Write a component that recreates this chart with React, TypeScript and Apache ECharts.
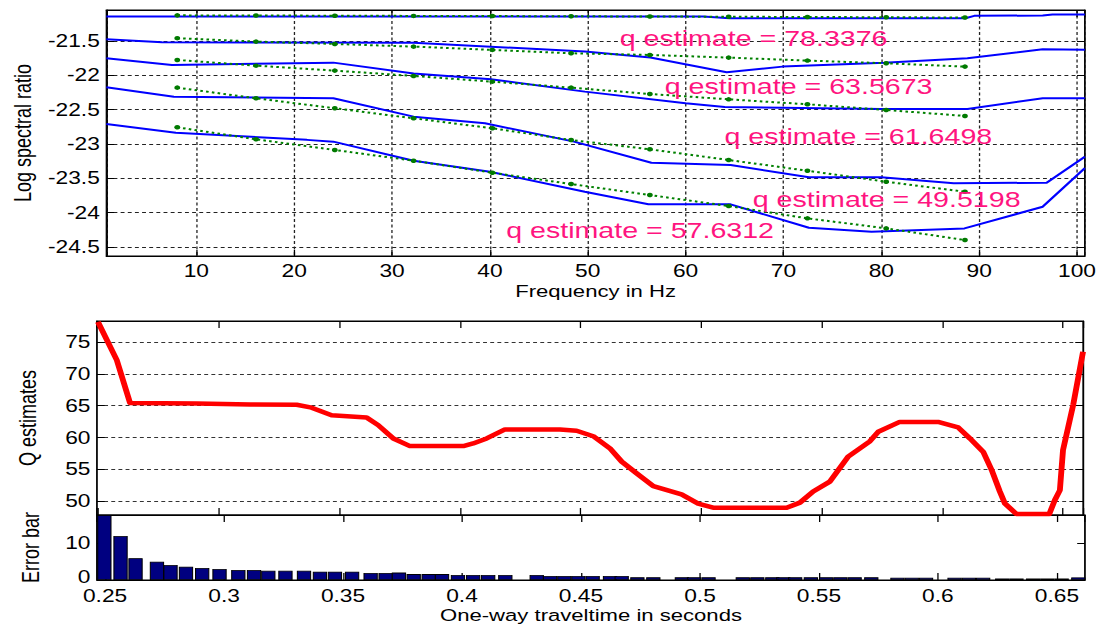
import React, { useEffect, useRef } from "react";
import * as echarts from "echarts";

// ---------------- data ----------------
// Top panel: log spectral ratio curves (frequency in Hz, value)
const blueLine1 = [[0.8, -21.146], [61.8, -21.146], [64.5, -21.17], [88.6, -21.17], [89.5, -21.135], [96.5, -21.13], [97.5, -21.115], [100.8, -21.115]];
const blueLine2 = [[0.8, -21.475], [6.5, -21.52], [32.2, -21.525], [49.7, -21.655], [56.4, -21.74], [64.2, -21.956], [69.9, -21.874], [80.3, -21.816], [88.8, -21.752], [96.5, -21.62], [100.8, -21.63]];
const blueLine3 = [[0.8, -21.752], [7.5, -21.85], [24, -21.816], [32.2, -21.975], [40.1, -22.058], [49.7, -22.238], [60, -22.407], [64, -22.462], [80, -22.49], [88.8, -22.49], [96.5, -22.335], [100.8, -22.335]];
const blueLine4 = [[0.8, -22.174], [7.7, -22.311], [24, -22.335], [32.2, -22.602], [39.5, -22.699], [48.6, -22.966], [56.5, -23.272], [64.6, -23.306], [72.6, -23.485], [80, -23.485], [87.4, -23.572], [96.9, -23.563], [100.8, -23.185]];
const blueLine5 = [[0.8, -22.709], [7.9, -22.835], [21.3, -22.94], [24, -22.966], [32.2, -23.243], [40, -23.403], [49.7, -23.695], [56.2, -23.878], [64.6, -23.878], [72.6, -24.219], [79, -24.277], [88.5, -24.228], [96.5, -23.913], [100.8, -23.35]];

const greenFreqs = [8.05, 16.1, 24.15, 32.2, 40.25, 48.3, 56.35, 64.4, 72.45, 80.5, 88.55];
const greenLine1 = [-21.128, -21.13, -21.133, -21.136, -21.138, -21.141, -21.145, -21.148, -21.152, -21.155, -21.16];
const greenLine2 = [-21.46, -21.51, -21.544, -21.583, -21.631, -21.68, -21.704, -21.743, -21.786, -21.825, -21.874];
const greenLine3 = [-21.777, -21.86, -21.932, -22.01, -22.093, -22.18, -22.272, -22.35, -22.422, -22.505, -22.592];
const greenLine4 = [-22.18, -22.335, -22.48, -22.626, -22.771, -22.942, -23.077, -23.233, -23.389, -23.549, -23.695];
const greenLine5 = [-22.757, -22.932, -23.087, -23.243, -23.418, -23.583, -23.743, -23.903, -24.082, -24.228, -24.398];

const qTexts = ["q estimate = 78.3376", "q estimate = 63.5673", "q estimate = 61.6498", "q estimate = 49.5198", "q estimate = 57.6312"];

// Middle panel: Q estimates vs one-way traveltime
const qCurve = [
  [0.2498, 78.2], [0.2576, 72.2], [0.2631, 65.45], [0.2908, 65.35], [0.3129, 65.2], [0.3322, 65.15], [0.3384, 64.7],
  [0.3467, 63.5], [0.3612, 63.15], [0.366, 61.95], [0.3723, 59.85], [0.3792, 58.65], [0.4013, 58.65], [0.4054, 59.07],
  [0.411, 59.85], [0.4186, 61.27], [0.4414, 61.27], [0.4483, 61.06], [0.4552, 60.2], [0.4621, 58.3], [0.467, 56.2],
  [0.4732, 54.35], [0.4801, 52.35], [0.4918, 51.05], [0.4987, 49.6], [0.5049, 48.95], [0.5354, 48.95], [0.5409, 49.75],
  [0.5464, 51.5], [0.5533, 53.05], [0.5609, 57.0], [0.5699, 59.4], [0.5734, 60.9], [0.5823, 62.45], [0.5982, 62.45],
  [0.6065, 61.6], [0.6114, 59.85], [0.6169, 57.75], [0.6204, 54.9], [0.6238, 51.5], [0.6259, 49.6], [0.6307, 47.95],
  [0.6443, 47.95], [0.6466, 50.15], [0.6487, 51.7], [0.65, 58.0], [0.6542, 65.1], [0.6583, 73.5],
];

// Bottom panel: error bars
const errTimes = [
  0.2497, 0.2565, 0.2628, 0.2718, 0.2775, 0.284, 0.2908, 0.2981, 0.306, 0.3126, 0.3186, 0.3258, 0.3336, 0.3403, 0.3466,
  0.3538, 0.3616, 0.3679, 0.3735, 0.3797, 0.386, 0.3916, 0.3983, 0.4047, 0.411, 0.4182, 0.4314, 0.437, 0.443, 0.4489,
  0.4549, 0.4622, 0.4671, 0.4737, 0.4804, 0.4924, 0.4975, 0.5036, 0.518, 0.5241, 0.5304, 0.535, 0.54, 0.5466, 0.553,
  0.559, 0.565, 0.572, 0.583, 0.589, 0.595, 0.607, 0.613, 0.619, 0.627, 0.633, 0.64, 0.646, 0.652, 0.659,
];
const errValues = [
  17.6, 11.9, 5.9, 4.95, 4.05, 3.6, 3.25, 2.97, 2.7, 2.7, 2.5, 2.5, 2.5, 2.25, 2.25,
  2.25, 1.9, 1.9, 2.0, 1.6, 1.6, 1.6, 1.35, 1.35, 1.35, 1.35, 1.35, 1.08, 1.08, 1.08,
  1.08, 1.08, 1.08, 0.72, 0.72, 0.72, 0.72, 0.72, 0.72, 0.72, 0.72, 0.72, 0.72, 0.72, 0.72,
  0.72, 0.72, 0.72, 0.6, 0.6, 0.6, 0.6, 0.6, 0.6, 0.4, 0.4, 0.4, 0.4, 0.4, 0.7,
];

// ---------------- layout ----------------
const STRETCH = 1.3; // the picture is horizontally stretched
const CW = 846;
const CH = 627;
const qTextAnchors = [[53.2, -21.464], [57.8, -22.155], [63.9, -22.883], [66.8, -23.808], [41.6, -24.26]];
const FONT = "'Liberation Sans', Arial, Helvetica, sans-serif";

const tickFont = { fontFamily: FONT, fontSize: 17.5, color: "#000" };
const nameFont = { fontFamily: FONT, fontSize: 17, color: "#000" };
const yNameFont = { fontFamily: FONT, fontSize: 18, color: "#000" };
const gridDash = { color: "#222", width: 1, type: [3, 2.5] as any };

function frameAxis(gridIndex: number, position: string, min: number, max: number, split: number, isX: boolean) {
  return {
    type: "value",
    gridIndex,
    position,
    min,
    max,
    splitNumber: split,
    axisLine: { show: true, onZero: false, lineStyle: { color: "#000", width: 1 } },
    axisTick: { show: true, inside: true, length: isX ? 7 : 6, lineStyle: { color: "#000" } },
    axisLabel: { show: false },
    splitLine: { show: false },
  };
}

function buildOption() {
  const blues = [blueLine1, blueLine2, blueLine3, blueLine4, blueLine5];
  const greens = [greenLine1, greenLine2, greenLine3, greenLine4, greenLine5];
  const series: any[] = [];
  blues.forEach((d) => {
    series.push({
      type: "line", xAxisIndex: 0, yAxisIndex: 0, data: d, symbol: "none",
      lineStyle: { color: "#0000ff", width: 2 }, z: 3,
    });
  });
  greens.forEach((vals) => {
    series.push({
      type: "line", xAxisIndex: 0, yAxisIndex: 0,
      data: greenFreqs.map((f, j) => [f, vals[j]]),
      symbol: "circle", symbolSize: 4.5, itemStyle: { color: "#007a00" },
      lineStyle: { color: "#008000", width: 2, type: [2, 2.5] }, z: 4,
    });
  });
  qTexts.forEach((t, i) => {
    series.push({
      type: "scatter", xAxisIndex: 0, yAxisIndex: 0,
      data: [qTextAnchors[i]], symbolSize: 1, itemStyle: { color: "rgba(0,0,0,0)" }, z: 6,
      label: {
        show: true, position: "right", distance: 0, formatter: t,
        fontFamily: FONT, fontSize: 22, color: "#ff1480", opacity: 1,
      },
    });
  });
  series.push({
    type: "line", xAxisIndex: 2, yAxisIndex: 2, data: qCurve, symbol: "none",
    lineStyle: { color: "#ff0000", width: 4.5, join: "round" }, z: 3,
  });
  series.push({
    type: "bar", xAxisIndex: 4, yAxisIndex: 4,
    data: errTimes.map((t, i) => [t, errValues[i]]),
    barWidth: 11,
    itemStyle: { color: "#000080", borderColor: "#000", borderWidth: 0.8 },
  });

  const gridBase = { show: true, borderColor: "#000", borderWidth: 1, backgroundColor: "transparent" };

  return {
    animation: false,
    backgroundColor: "#fff",
    textStyle: { fontFamily: FONT },
    grid: [
      { ...gridBase, left: 74.6, top: 10, width: 760, height: 246 },
      { ...gridBase, left: 74.6, top: 321, width: 758.5, height: 194 },
      { ...gridBase, left: 74.6, top: 515, width: 760, height: 65 },
    ],
    xAxis: [
      {
        type: "value", gridIndex: 0, position: "bottom", min: 0.8, max: 100.8, splitNumber: 10,
        axisLine: { show: true, onZero: false, lineStyle: { color: "#000" } },
        axisTick: { show: true, inside: true, length: 6, lineStyle: { color: "#000" } },
        axisLabel: { ...tickFont, margin: 5.5, showMinLabel: false, showMaxLabel: false },
        splitLine: { show: true, lineStyle: gridDash },
        name: "Frequency in Hz", nameLocation: "middle", nameGap: 26, nameTextStyle: nameFont,
      },
      frameAxis(0, "top", 0.8, 100.8, 10, true),
      frameAxis(1, "bottom", 0.2494, 0.6583, 8, true),
      frameAxis(1, "top", 0.2494, 0.6583, 8, true),
      {
        type: "value", gridIndex: 2, position: "bottom", min: 0.2466, max: 0.6618, splitNumber: 8,
        axisLine: { show: true, onZero: false, lineStyle: { color: "#000" } },
        axisTick: { show: true, inside: true, length: 7, lineStyle: { color: "#000" } },
        axisLabel: { ...tickFont, margin: 6.5, showMinLabel: false, showMaxLabel: false },
        splitLine: { show: false },
        name: "One-way traveltime in seconds", nameLocation: "middle", nameGap: 26.5, nameTextStyle: nameFont,
      },
      frameAxis(2, "top", 0.2466, 0.6618, 8, true),
    ],
    yAxis: [
      {
        type: "value", gridIndex: 0, position: "left", min: -24.63, max: -21.05, splitNumber: 7,
        axisLine: { show: true, onZero: false, lineStyle: { color: "#000" } },
        axisTick: { show: true, inside: true, length: 6, lineStyle: { color: "#000" } },
        axisLabel: { ...tickFont, margin: 5, showMinLabel: false, showMaxLabel: false },
        splitLine: { show: true, lineStyle: gridDash },
        name: "Log spectral ratio", nameLocation: "middle", nameGap: 51, nameTextStyle: yNameFont,
      },
      frameAxis(0, "right", -24.63, -21.05, 7, false),
      {
        type: "value", gridIndex: 1, position: "left", min: 47.8, max: 78.34, splitNumber: 6,
        axisLine: { show: true, onZero: false, lineStyle: { color: "#000" } },
        axisTick: { show: true, inside: true, length: 6, lineStyle: { color: "#000" } },
        axisLabel: { ...tickFont, margin: 5, showMinLabel: false, showMaxLabel: false },
        splitLine: { show: true, lineStyle: { color: "#333", width: 1, type: [3, 2.5] } },
        name: "Q estimates", nameLocation: "middle", nameGap: 44, nameTextStyle: yNameFont,
      },
      frameAxis(1, "right", 47.8, 78.34, 6, false),
      {
        type: "value", gridIndex: 2, position: "left", min: 0, max: 17.6, interval: 10,
        axisLine: { show: true, onZero: false, lineStyle: { color: "#000" } },
        axisTick: { show: true, inside: true, length: 6, lineStyle: { color: "#000" } },
        axisLabel: {
          ...tickFont, margin: 5, showMinLabel: true, showMaxLabel: false,
          formatter: (v: number) => (v === 0 ? "{zero|0}" : String(v)),
          rich: { zero: { fontFamily: FONT, fontSize: 17.5, color: "#000", padding: [0, 0, 6, 0] } },
        },
        splitLine: { show: false },
        name: "Error bar", nameLocation: "middle", nameGap: 42, nameTextStyle: yNameFont,
      },
      { ...frameAxis(2, "right", 0, 17.6, 2, false), interval: 10 },
    ],
    series,
  };
}

export default function App() {
  const ref = useRef<HTMLDivElement>(null);
  useEffect(() => {
    if (!ref.current) return;
    const chart = echarts.init(ref.current, null, { renderer: "svg", width: CW, height: CH });
    chart.setOption(buildOption() as any);
    return () => chart.dispose();
  }, []);
  return (
    <div
      ref={ref}
      style={{
        position: "absolute",
        left: 0,
        top: 0,
        width: CW,
        height: CH,
        transform: `scaleX(${STRETCH})`,
        transformOrigin: "0 0",
        background: "#fff",
      }}
    />
  );
}
